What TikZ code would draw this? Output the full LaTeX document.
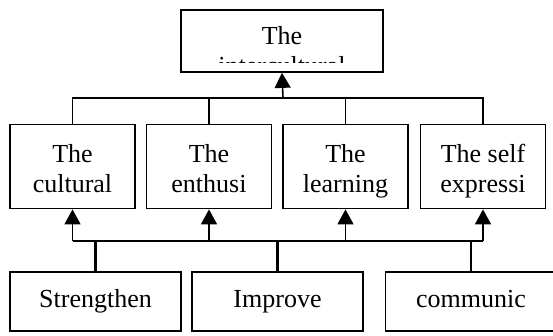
\documentclass[tikz,border=0pt]{standalone}
\usepackage{fontspec}
\setmainfont{Liberation Serif}
\usetikzlibrary{arrows.meta}
\tikzset{
    every node/.style={draw, line width=1.8pt, align=center,
    	font=\fontsize{26}{30}\selectfont}
}
\tikzset{
    mid/.style={minimum width=125pt, minimum height=84pt,
    	execute at end node={\vphantom{g}}},
    low/.style={minimum width=171pt, minimum height=59pt,
    	text height=17.5pt, text depth=5.5pt},
    up/.style={-{Triangle[length=15pt,width=16pt]}}
}

\begin{document}
\begin{tikzpicture}[x=1pt,y=-1pt,line width=1.6pt]
	\useasboundingbox (0,0) rectangle (553,335);
	\node (0) [minimum width=202pt, minimum height=62pt] at (282,41) {};
	\begin{scope}
		\clip (181,10) rectangle (383,62);
		\node (0t) [draw=none] at (282,51) {The\\intercultural};
	\end{scope}
	\node (1) [mid] at (72.5,166.5) {};
	\node (2) [mid] at (209,166.5) {};
	\node (3) [mid] at (345.5,166.5) {};
	\node (4) [mid] at (483,166.5) {};
	\node (1t) [draw=none, execute at end node={\vphantom{g}}] at (72.5,171) {The\\cultural};
	\node (2t) [draw=none, execute at end node={\vphantom{g}}] at (209,171) {The\\enthusi};
	\node (3t) [draw=none, execute at end node={\vphantom{g}}] at (345.5,171) {The\\learning};
	\node (4t) [draw=none, execute at end node={\vphantom{g}}] at (483,171) {The self\\expressi};
	\node (5) [low] at (95.5,301.5) {Strengthen};
	\node (6) [low] at (277.5,301.5) {Improve};
	\node (7) [low] at (471,301.5) {communic};
	\coordinate (a) at (283,98);
	\coordinate (b) at (283,241);

	\draw (1.north) |- (4.north |- a) -- (4.north);
	\draw (2.north) -- (2.north |- a); \draw (3.north) -- (3.north |- a);
	\draw [up] (a) -- (0.south);

	\draw (1.south |- b) -- (4.south |- b);
	\draw [up] (1.south |- b) -- (1.south); \draw [up] (2.south |- b) -- (2.south);
	\draw [up] (3.south |- b) -- (3.south); \draw [up] (4.south |- b) -- (4.south);
	\draw [line width=2.2pt] (5.north) -- (5.north |- b);
	\draw [line width=2.2pt] (6.north) -- (6.north |- b);
	\draw (7.north) -- (7.north |- b);
\end{tikzpicture}
\end{document}
